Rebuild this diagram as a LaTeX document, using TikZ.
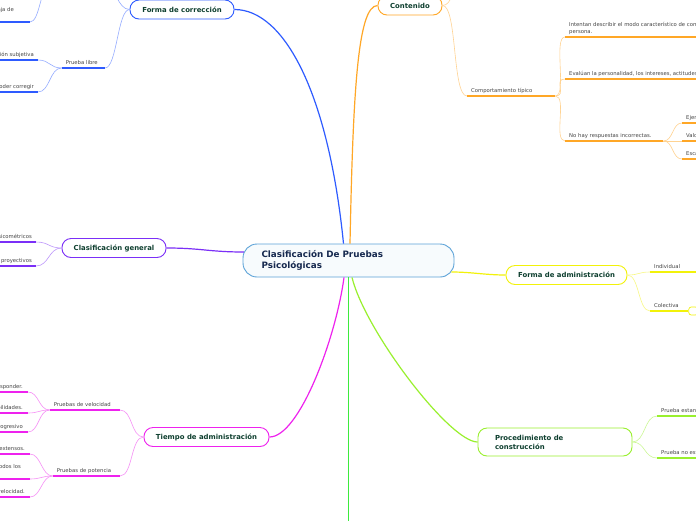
\documentclass[tikz,border=0pt]{standalone}
\usepackage{fontspec}
\setmainfont{DejaVu Sans}
\usepackage{tikz}
\usetikzlibrary{calc}
\definecolor{cBlue}{HTML}{2E5BFF}
\definecolor{cOrange}{HTML}{FFA726}
\definecolor{cPurple}{HTML}{7B2FF7}
\definecolor{cMagenta}{HTML}{EE22EE}
\definecolor{cYellow}{HTML}{F2F20A}
\definecolor{cLime}{HTML}{99F02E}
\definecolor{cGreen}{HTML}{3DEB3D}
\definecolor{rootLine}{HTML}{5DA3D8}
\definecolor{rootFill}{HTML}{F7FBFD}
\definecolor{nodeText}{HTML}{0E3F2F}
\definecolor{rootText}{HTML}{16294F}
\definecolor{leafText}{HTML}{444444}

\begin{document}
\begin{tikzpicture}[
  x=1pt, y=-1pt,
  hub/.style={draw=rootLine, line width=0.9pt, fill=rootFill, rounded corners=14pt,
              minimum width=211pt, minimum height=33pt, text width=174pt, align=left,
              font=\bfseries\fontsize{8.8}{11}\selectfont, text=rootText},
  topic/.style={draw=#1, line width=0.9pt, fill=white, rounded corners=9pt,
                minimum height=19pt, inner sep=2pt, align=left,
                font=\bfseries\fontsize{6.9}{9}\selectfont, text=nodeText},
  leaf/.style={font=\fontsize{5.3}{7}\selectfont, text=leafText, align=left,
               inner xsep=4pt, inner ysep=2.5pt, text depth=1.3pt},
  badge/.style={draw=#1, line width=0.7pt, fill=white, rounded corners=2.5pt,
                minimum width=9pt, minimum height=8pt, inner sep=0pt},
  trunk/.style={draw=#1, line width=1.2pt},
  link/.style={draw=#1!50, line width=0.6pt},
  uline/.style={draw=#1, line width=1.1pt}
]
\useasboundingbox (0,0) rectangle (696,520);
\fill[white] (0,0) rectangle (696,520);
\clip (0,0) rectangle (696,520);

% centre and main topics
\node[hub] (root) at (348.5,260.5) {Clasificación De Pruebas\\Psicológicas};
\node[topic=cBlue, minimum width=104pt] (corr) at (182,9.5) {Forma de corrección};
\node[topic=cOrange, minimum width=64pt] (cont) at (410,5.5) {Contenido};
\node[topic=cPurple, minimum width=104pt] (clas) at (114,248) {Clasificación general};
\node[topic=cMagenta, minimum width=125pt] (tiempo) at (206.5,437) {Tiempo de administración};
\node[topic=cYellow, minimum width=121pt] (admin) at (566.5,275) {Forma de administración};
\node[topic=cLime, minimum width=154pt, minimum height=28pt, text width=120pt] (proc) at (555,442)
  {Procedimiento de\\construcción};
\coordinate (gend) at (348.5,530);

\draw[trunk=cBlue] ($(root.north)+(-5,0)$) .. controls +(-15,-150) and +(50,0) .. (corr.east);
\draw[trunk=cOrange] ($(root.north)+(1.5,0)$) .. controls +(3,-150) and +(-20,0) .. (cont.west);
\draw[trunk=cPurple] (clas.east) .. controls +(35,0) and +(-35,0) .. ($(root.west)+(1.4,-8.5)$);
\draw[trunk=cMagenta] (tiempo.east) .. controls +(30,0) and +(-8,60) .. ($(root.south)+(-4.5,0)$);
\draw[trunk=cGreen, line width=1.4pt] (root.south) -- (gend);
\draw[trunk=cLime] ($(root.south)+(3.5,0)$) .. controls +(13,53) and +(-28,0) .. (proc.west);
\draw[trunk=cYellow] ($(root.east)+(-3,11.5)$) .. controls +(20,0) and +(-20,0) .. (admin.west);

% forma de correccion
\coordinate (corrUp) at (104,-14);
\coordinate (jadeUp) at (50,-14);
\node[leaf, anchor=south east, inner xsep=16pt] (jade) at (30,22) {Tiene la ventaja de\\ser rápida.};
\node[leaf, anchor=south east, text width=35pt] (libre) at (105,68) {Prueba libre};
\node[leaf, anchor=south east] (subj) at (38,60) {Valoración subjetiva};
\node[leaf, anchor=south east] (correg) at (38,92) {Se requiere un experto para poder corregir};

\draw[link=cBlue] (corr.west) .. controls +(-12,0) and +(12,0) .. (corrUp);
\draw[link=cBlue] (corr.west) .. controls +(-12,0) and +(12,0) .. (libre.south east);
\draw[link=cBlue] (jade.south east) .. controls +(10,0) and +(-10,0) .. (jadeUp);
\draw[link=cBlue] (libre.south west) .. controls +(-12,0) and +(12,0) .. (subj.south east);
\draw[link=cBlue] (libre.south west) .. controls +(-12,0) and +(12,0) .. (correg.south east);
\draw[uline=cBlue] (jade.south west) -- (jade.south east);
\draw[uline=cBlue] (libre.south west) -- (libre.south east);
\draw[uline=cBlue] (subj.south west) -- (subj.south east);
\draw[uline=cBlue] (correg.south west) -- (correg.south east);

% contenido
\coordinate (contUp) at (462,-14);
\node[leaf, anchor=south west, text width=80pt] (tipico) at (467,96) {Comportamiento típico};
\node[leaf, anchor=south west] (intent) at (565,37)
  {Intentan describir el modo característico de comportamiento de la\\persona.};
\node[leaf, anchor=south west] (evalua) at (565,79)
  {Evalúan la personalidad, los intereses, actitudes y valores.};
\node[leaf, anchor=south west, text width=90pt] (nohay) at (565,141) {No hay respuestas incorrectas.};
\node[leaf, anchor=south west] (ejem) at (682,123) {Ejemplos};
\node[leaf, anchor=south west] (valor) at (682,141) {Valores};
\node[leaf, anchor=south west] (escal) at (682,159) {Escalas};

\draw[link=cOrange] (cont.east) .. controls +(10,0) and +(-10,0) .. (contUp);
\draw[link=cOrange] (cont.east) .. controls +(15,0) and +(-15,0) .. (tipico.south west);
\draw[link=cOrange] (tipico.south east) .. controls +(12,0) and +(-12,0) .. (intent.south west);
\draw[link=cOrange] (tipico.south east) .. controls +(12,0) and +(-12,0) .. (evalua.south west);
\draw[link=cOrange] (tipico.south east) .. controls +(12,0) and +(-12,0) .. (nohay.south west);
\draw[link=cOrange] (nohay.south east) .. controls +(10,0) and +(-10,0) .. (ejem.south west);
\draw[link=cOrange] (nohay.south east) .. controls +(10,0) and +(-10,0) .. (valor.south west);
\draw[link=cOrange] (nohay.south east) .. controls +(10,0) and +(-10,0) .. (escal.south west);
\draw[uline=cOrange] (tipico.south west) -- (tipico.south east);
\draw[uline=cOrange] (intent.south west) -- (intent.south east);
\draw[uline=cOrange] (evalua.south west) -- (evalua.south east);
\draw[uline=cOrange] (nohay.south west) -- (nohay.south east);
\draw[uline=cOrange] (ejem.south west) -- (ejem.south east);
\draw[uline=cOrange] (valor.south west) -- (valor.south east);
\draw[uline=cOrange] (escal.south west) -- (escal.south east);

% clasificacion general
\node[leaf, anchor=south east] (psico) at (36,242) {Tests psicométricos};
\node[leaf, anchor=south east] (proy) at (36,266) {Tests proyectivos};

\draw[link=cPurple] (clas.west) .. controls +(-13,0) and +(13,0) .. (psico.south east);
\draw[link=cPurple] (clas.west) .. controls +(-13,0) and +(13,0) .. (proy.south east);
\draw[uline=cPurple] (psico.south west) -- (psico.south east);
\draw[uline=cPurple] (proy.south west) -- (proy.south east);

% tiempo de administracion
\node[leaf, anchor=south east, text width=62pt] (vel) at (120,410) {Pruebas de velocidad};
\node[leaf, anchor=south east, text width=59pt] (pot) at (120,476) {Pruebas de potencia};
\node[leaf, anchor=south east, inner xsep=5pt] (vel1) at (28,392) {Tiempo limitado para responder.};
\node[leaf, anchor=south east, inner xsep=5pt] (vel2) at (28,413) {Miden habilidades.};
\node[leaf, anchor=south east, inner xsep=5pt] (vel3) at (28,432) {Nivel de dificultad progresivo};
\node[leaf, anchor=south east, inner xsep=5pt] (pot1) at (30,454) {Ítems difíciles y extensos.};
\node[leaf, anchor=south east, inner xsep=9pt] (pot2) at (30,479) {Se da tiempo para que respondan todos los\\ítems.};
\node[leaf, anchor=south east, inner xsep=5pt] (pot3) at (30,497) {No importa la velocidad.};

\draw[link=cMagenta] (tiempo.west) .. controls +(-13,0) and +(13,0) .. (vel.south east);
\draw[link=cMagenta] (tiempo.west) .. controls +(-13,0) and +(13,0) .. (pot.south east);
\draw[link=cMagenta] (vel.south west) .. controls +(-11,0) and +(11,0) .. (vel1.south east);
\draw[link=cMagenta] (vel.south west) .. controls +(-11,0) and +(11,0) .. (vel2.south east);
\draw[link=cMagenta] (vel.south west) .. controls +(-11,0) and +(11,0) .. (vel3.south east);
\draw[link=cMagenta] (pot.south west) .. controls +(-11,0) and +(11,0) .. (pot1.south east);
\draw[link=cMagenta] (pot.south west) .. controls +(-11,0) and +(11,0) .. (pot2.south east);
\draw[link=cMagenta] (pot.south west) .. controls +(-11,0) and +(11,0) .. (pot3.south east);
\draw[uline=cMagenta] (vel.south west) -- (vel.south east);
\draw[uline=cMagenta] (pot.south west) -- (pot.south east);
\draw[uline=cMagenta] (vel1.south west) -- (vel1.south east);
\draw[uline=cMagenta] (vel2.south west) -- (vel2.south east);
\draw[uline=cMagenta] (vel3.south west) -- (vel3.south east);
\draw[uline=cMagenta] (pot1.south west) -- (pot1.south east);
\draw[uline=cMagenta] (pot2.south west) -- (pot2.south east);
\draw[uline=cMagenta] (pot3.south west) -- (pot3.south east);

% forma de administracion
\node[leaf, anchor=south west, text width=60pt] (indiv) at (650,272) {Individual};
\node[leaf, anchor=south west, text width=30pt] (colect) at (650,311) {Colectiva};
\node[badge=cYellow, anchor=west] (colectMore) at (colect.south east) {};

\draw[link=cYellow] (admin.east) .. controls +(12,0) and +(-12,0) .. (indiv.south west);
\draw[link=cYellow] (admin.east) .. controls +(12,0) and +(-12,0) .. (colect.south west);
\draw[uline=cYellow] (indiv.south west) -- (indiv.south east);
\draw[uline=cYellow] (colect.south west) -- (colect.south east);

% procedimiento de construccion
\node[leaf, anchor=south west] (estand) at (657,416) {Prueba estandarizada};
\node[leaf, anchor=south west] (noestand) at (657,458) {Prueba no estandarizada};

\draw[link=cLime] (proc.east) .. controls +(13,0) and +(-13,0) .. (estand.south west);
\draw[link=cLime] (proc.east) .. controls +(13,0) and +(-13,0) .. (noestand.south west);
\draw[uline=cLime] (estand.south west) -- (estand.south east);
\draw[uline=cLime] (noestand.south west) -- (noestand.south east);
\end{tikzpicture}
\end{document}
